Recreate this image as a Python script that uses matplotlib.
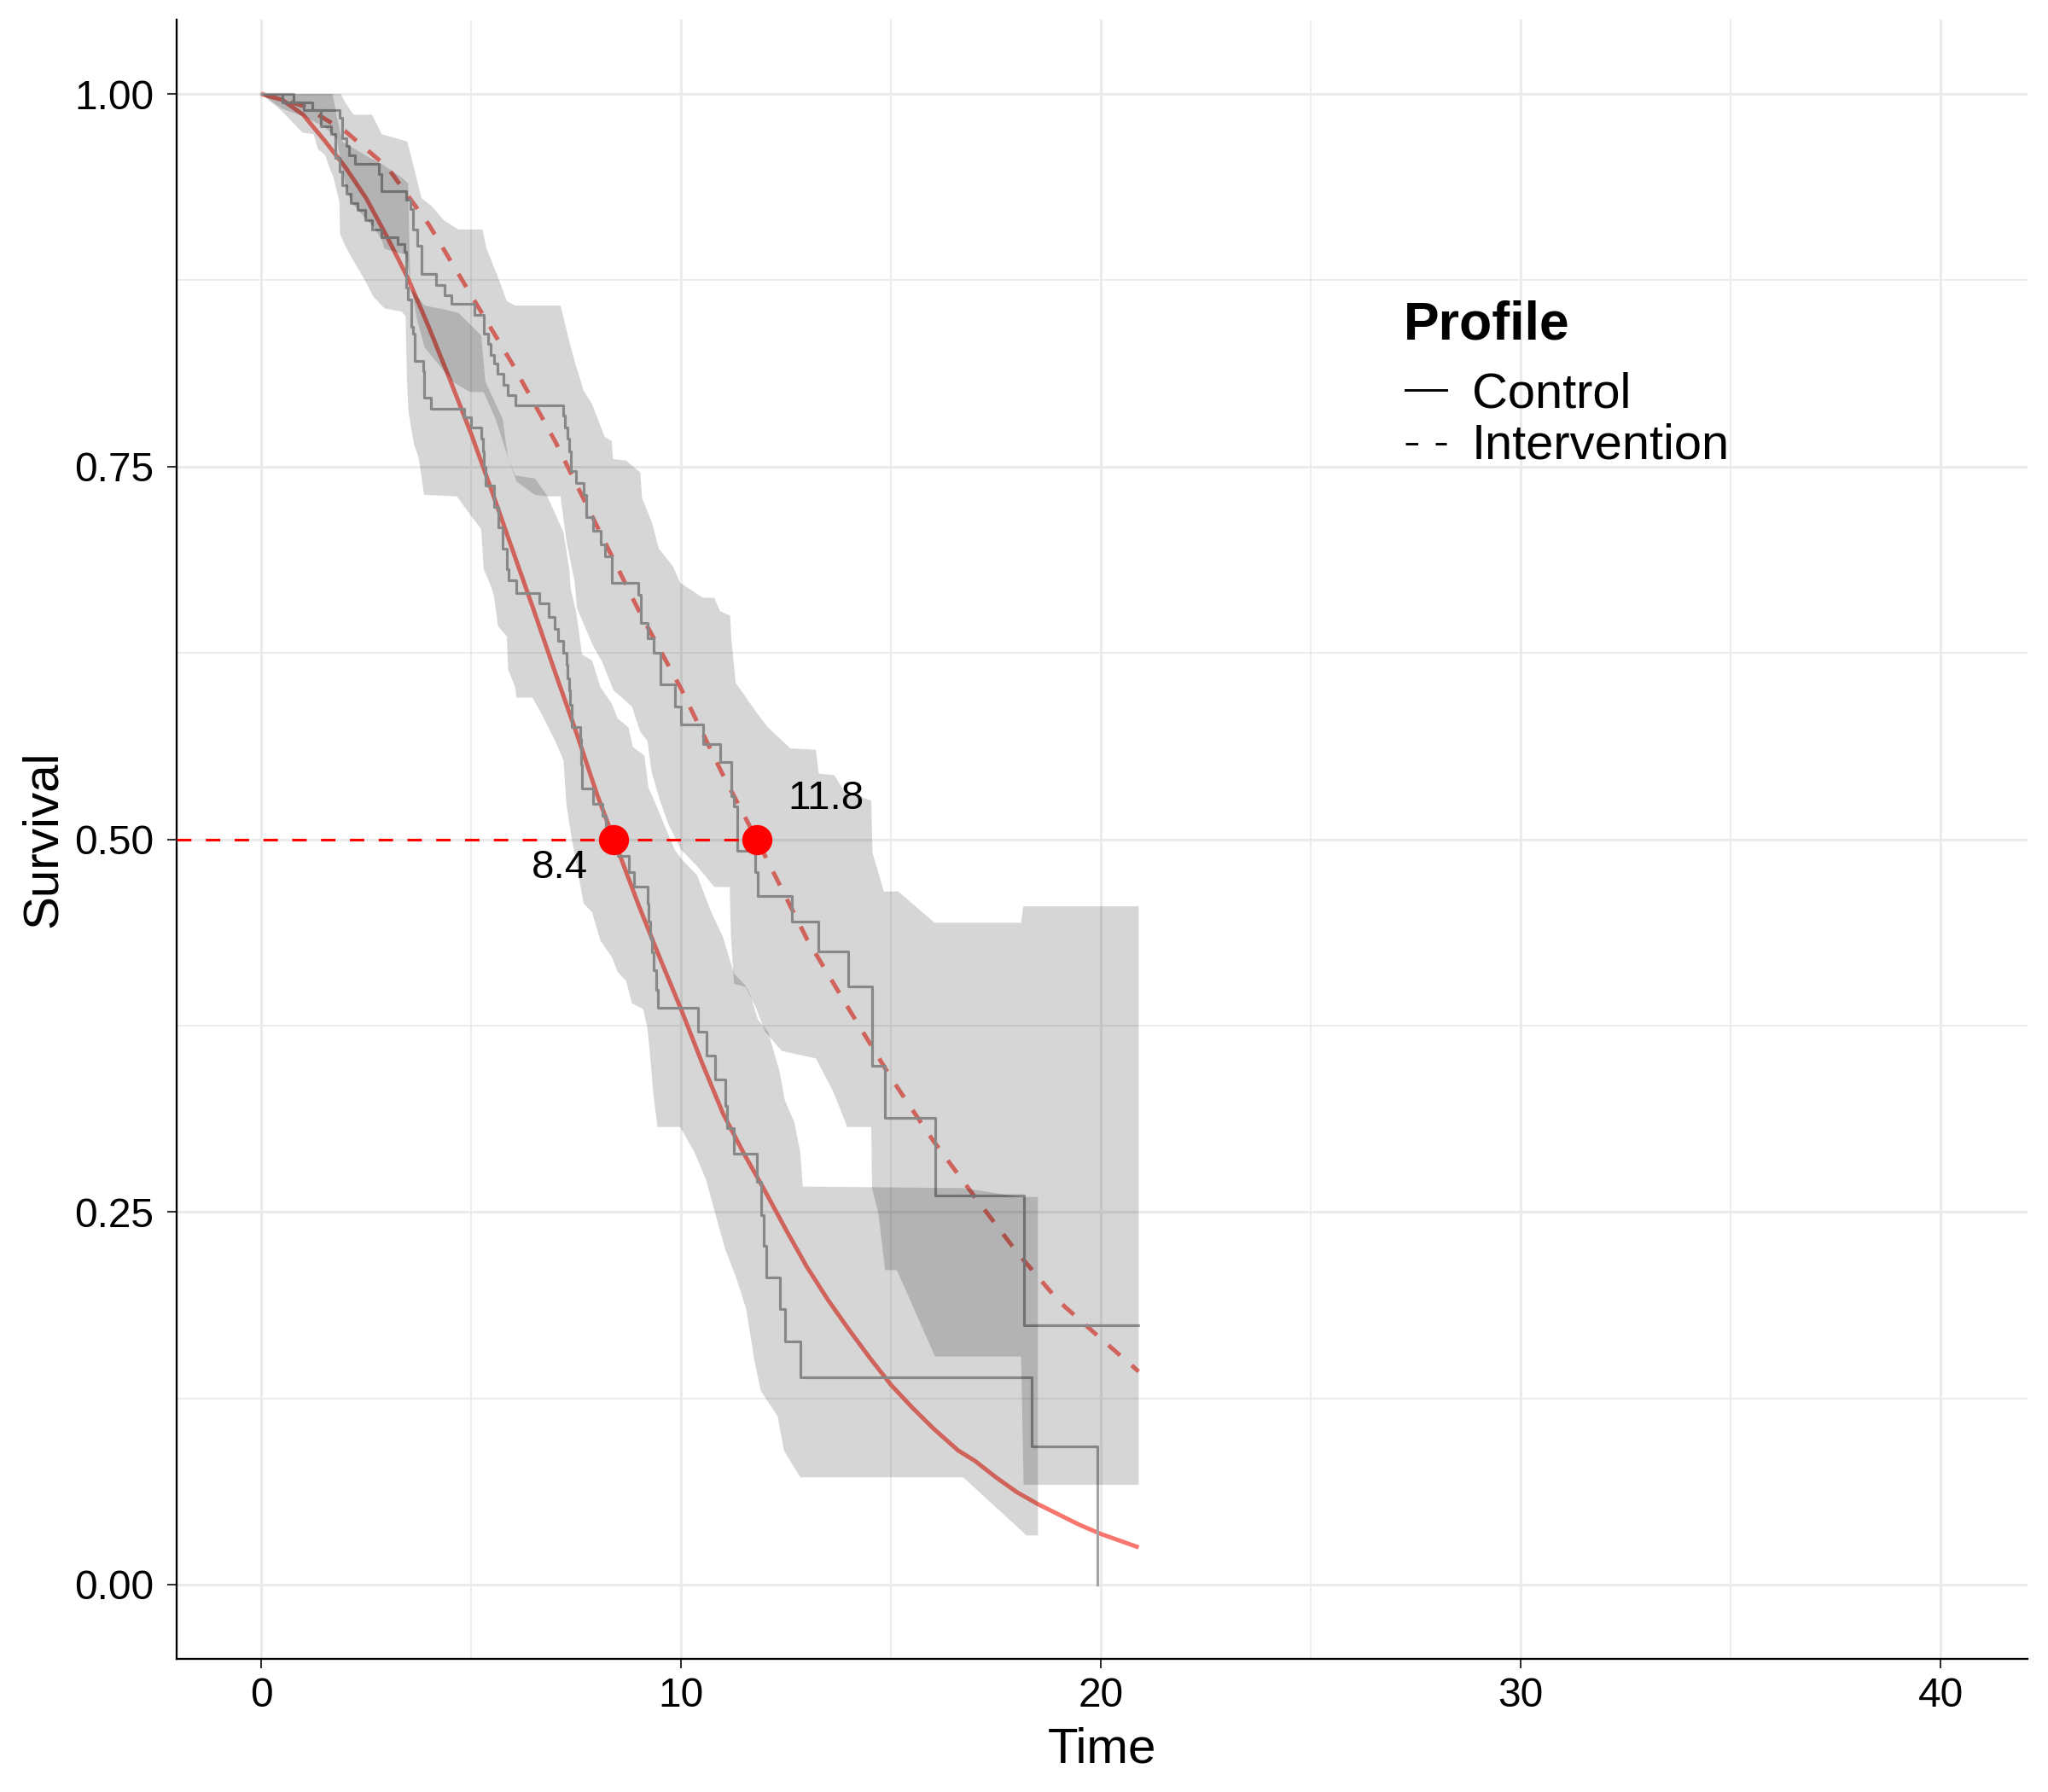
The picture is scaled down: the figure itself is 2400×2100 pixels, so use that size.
import matplotlib
matplotlib.use("Agg")
import matplotlib.pyplot as plt
from matplotlib.lines import Line2D
from matplotlib.ticker import MultipleLocator

plt.rcParams['font.family'] = ['Liberation Sans', 'DejaVu Sans']

# ---------------- data ----------------
# Kaplan-Meier steps (time, survival)
ctrl_km = [(0, 1.0), (0.51, 0.994), (1.01, 0.989), (1.42, 0.978), (1.66, 0.973), (1.76, 0.957),
           (1.86, 0.948), (1.93, 0.939), (2.03, 0.933), (2.13, 0.927), (2.30, 0.922), (2.47, 0.915),
           (2.64, 0.909), (2.87, 0.904), (3.24, 0.899), (3.41, 0.894), (3.45, 0.870), (3.50, 0.862),
           (3.58, 0.844), (3.61, 0.839), (3.66, 0.821), (3.85, 0.814), (3.88, 0.796), (4.05, 0.789),
           (4.83, 0.783), (5.00, 0.776), (5.24, 0.769), (5.28, 0.760), (5.31, 0.750), (5.34, 0.737),
           (5.54, 0.723), (5.64, 0.709), (5.75, 0.695), (5.85, 0.681), (5.90, 0.674), (6.08, 0.665),
           (6.63, 0.658), (6.85, 0.649), (7.00, 0.641), (7.07, 0.633), (7.20, 0.625), (7.27, 0.617),
           (7.30, 0.608), (7.33, 0.600), (7.36, 0.590), (7.39, 0.575), (7.60, 0.567), (7.62, 0.550),
           (7.65, 0.534), (7.91, 0.524), (8.13, 0.516), (8.20, 0.508), (8.30, 0.500), (8.50, 0.489),
           (8.75, 0.478), (8.87, 0.468), (9.20, 0.457), (9.22, 0.445), (9.26, 0.434), (9.30, 0.424),
           (9.34, 0.412), (9.40, 0.399), (9.45, 0.387), (10.40, 0.371), (10.60, 0.355), (10.82, 0.339),
           (11.06, 0.321), (11.10, 0.306), (11.26, 0.289), (11.80, 0.270), (11.90, 0.248), (11.96, 0.227),
           (12.03, 0.206), (12.36, 0.185), (12.48, 0.163), (12.85, 0.139), (18.36, 0.093), (19.92, 0.0)]

int_km = [(0, 1.0), (0.78, 0.994), (1.22, 0.989), (1.86, 0.984), (1.93, 0.970), (2.03, 0.965),
          (2.09, 0.959), (2.23, 0.953), (2.80, 0.946), (2.87, 0.935), (3.45, 0.929), (3.55, 0.923),
          (3.61, 0.909), (3.72, 0.898), (3.82, 0.879), (4.16, 0.872), (4.36, 0.865), (4.53, 0.859),
          (5.07, 0.852), (5.30, 0.839), (5.41, 0.832), (5.47, 0.825), (5.55, 0.819), (5.63, 0.812),
          (5.78, 0.805), (5.87, 0.798), (6.05, 0.791), (7.19, 0.784), (7.24, 0.776), (7.30, 0.769),
          (7.34, 0.760), (7.37, 0.747), (7.50, 0.739), (7.68, 0.731), (7.75, 0.716), (7.91, 0.707),
          (8.08, 0.698), (8.18, 0.690), (8.35, 0.672), (8.98, 0.664), (9.05, 0.645), (9.20, 0.635),
          (9.34, 0.625), (9.50, 0.604), (9.85, 0.589), (10.00, 0.577), (10.53, 0.564), (10.94, 0.552),
          (11.20, 0.529), (11.25, 0.522), (11.33, 0.492), (11.77, 0.478), (11.82, 0.462), (12.63, 0.445),
          (13.28, 0.425), (13.99, 0.401), (14.56, 0.348), (14.85, 0.313), (16.06, 0.261), (18.16, 0.174),
          (20.90, 0.174)]

# confidence band edges (time, survival)
ctrl_upper = [(0, 1.0), (1.70, 1.0), (1.80, 0.985), (1.93, 0.968), (2.53, 0.958), (2.87, 0.953),
              (3.34, 0.944), (3.50, 0.940), (3.55, 0.870), (3.89, 0.858), (4.43, 0.855), (4.70, 0.853),
              (5.24, 0.838), (5.34, 0.807), (5.75, 0.782), (5.88, 0.756), (6.05, 0.744), (6.52, 0.742),
              (6.80, 0.731), (7.20, 0.706), (7.34, 0.681), (7.37, 0.668), (7.50, 0.653), (7.64, 0.624),
              (7.88, 0.620), (8.08, 0.602), (8.35, 0.591), (8.49, 0.581), (8.75, 0.575), (8.85, 0.562),
              (9.13, 0.556), (9.22, 0.535), (9.45, 0.520), (9.70, 0.503), (9.85, 0.493), (10.00, 0.487),
              (10.38, 0.476), (10.72, 0.451), (10.99, 0.435), (11.26, 0.410), (11.53, 0.402), (11.66, 0.395),
              (11.83, 0.379), (12.07, 0.371), (12.34, 0.345), (12.47, 0.325), (12.70, 0.310), (12.84, 0.290),
              (12.90, 0.267), (16.72, 0.266), (18.10, 0.260), (18.50, 0.260)]
ctrl_lower = [(0, 1.0), (0.51, 0.988), (0.98, 0.974), (1.25, 0.973), (1.35, 0.963), (1.52, 0.959),
              (1.66, 0.948), (1.72, 0.944), (1.86, 0.928), (1.88, 0.906), (2.00, 0.898), (2.26, 0.885),
              (2.47, 0.875), (2.67, 0.864), (2.94, 0.856), (3.34, 0.854), (3.44, 0.851), (3.47, 0.810),
              (3.51, 0.786), (3.64, 0.765), (3.75, 0.756), (3.88, 0.731), (4.66, 0.730), (4.97, 0.718),
              (5.24, 0.708), (5.30, 0.681), (5.44, 0.672), (5.54, 0.664), (5.64, 0.643), (5.85, 0.636),
              (5.88, 0.614), (6.05, 0.602), (6.08, 0.595), (6.46, 0.595), (6.66, 0.585), (7.00, 0.566),
              (7.20, 0.553), (7.27, 0.523), (7.40, 0.500), (7.68, 0.457), (7.88, 0.451), (8.08, 0.432),
              (8.35, 0.421), (8.49, 0.411), (8.69, 0.405), (8.83, 0.390), (9.10, 0.386), (9.20, 0.373),
              (9.27, 0.353), (9.34, 0.329), (9.44, 0.307), (9.98, 0.307), (10.32, 0.290), (10.59, 0.272),
              (11.05, 0.225), (11.30, 0.207), (11.55, 0.185), (11.75, 0.150), (11.90, 0.130), (12.30, 0.113),
              (12.45, 0.090), (12.84, 0.072), (16.72, 0.072), (18.23, 0.033), (18.50, 0.033)]

int_upper = [(0, 1.0), (1.89, 1.0), (2.03, 0.993), (2.20, 0.986), (2.64, 0.986), (2.87, 0.973),
             (3.48, 0.968), (3.58, 0.957), (3.82, 0.930), (4.05, 0.925), (4.36, 0.915), (4.70, 0.909),
             (5.27, 0.909), (5.37, 0.896), (5.64, 0.877), (5.85, 0.861), (6.05, 0.858), (7.13, 0.858),
             (7.34, 0.834), (7.47, 0.820), (7.68, 0.801), (7.88, 0.792), (8.18, 0.770), (8.35, 0.767),
             (8.38, 0.755), (8.69, 0.754), (9.03, 0.746), (9.07, 0.729), (9.30, 0.713), (9.47, 0.695),
             (9.81, 0.683), (9.98, 0.672), (10.52, 0.662), (10.79, 0.662), (10.93, 0.653), (11.17, 0.650),
             (11.20, 0.634), (11.30, 0.605), (11.80, 0.585), (12.07, 0.575), (12.60, 0.561), (13.21, 0.560),
             (13.28, 0.544), (13.65, 0.543), (13.89, 0.532), (14.53, 0.526), (14.56, 0.491), (14.83, 0.465),
             (15.17, 0.465), (16.04, 0.444), (18.10, 0.444), (18.15, 0.455), (20.90, 0.455)]
int_lower = [(0, 1.0), (0.50, 0.990), (1.00, 0.985), (1.50, 0.978), (1.80, 0.970), (1.89, 0.955),
             (2.00, 0.940), (2.13, 0.928), (2.40, 0.919), (2.67, 0.911), (2.87, 0.902), (2.94, 0.896),
             (3.45, 0.892), (3.55, 0.875), (3.70, 0.850), (3.89, 0.830), (4.56, 0.807), (4.97, 0.800),
             (5.30, 0.800), (5.58, 0.782), (5.88, 0.756), (6.08, 0.740), (6.52, 0.731), (6.80, 0.730),
             (7.13, 0.730), (7.27, 0.700), (7.47, 0.672), (7.52, 0.655), (7.90, 0.630), (8.12, 0.619),
             (8.39, 0.600), (8.83, 0.589), (9.03, 0.572), (9.20, 0.566), (9.30, 0.545), (9.51, 0.525),
             (9.70, 0.510), (10.00, 0.493), (10.38, 0.482), (10.79, 0.468), (11.16, 0.468), (11.19, 0.434),
             (11.26, 0.403), (11.53, 0.401), (11.77, 0.388), (12.00, 0.371), (12.40, 0.358), (13.21, 0.353),
             (13.62, 0.331), (13.96, 0.307), (14.53, 0.307), (14.55, 0.266), (14.70, 0.249), (14.86, 0.211),
             (15.14, 0.211), (16.05, 0.153), (18.10, 0.153), (18.16, 0.067), (20.90, 0.067)]

# fitted parametric curves
ctrl_fit_t = [0, 0.5, 1, 1.5, 2, 2.5, 3, 3.5, 4, 4.5, 5, 5.5, 6, 6.5, 7, 7.5, 8, 8.4, 9, 9.5, 10,
              10.5, 11, 11.5, 12, 12.5, 13, 13.5, 14, 14.5, 15, 15.5, 16, 16.6, 17, 17.5, 18, 18.5,
              19, 19.5, 20, 20.9]
ctrl_fit_s = [1.0, 0.996, 0.986, 0.969, 0.951, 0.930, 0.904, 0.876, 0.843, 0.808, 0.772, 0.733, 0.693,
              0.653, 0.612, 0.572, 0.530, 0.500, 0.455, 0.420, 0.386, 0.350, 0.316, 0.289, 0.264,
              0.238, 0.213, 0.191, 0.171, 0.152, 0.134, 0.119, 0.105, 0.090, 0.083, 0.072, 0.062,
              0.054, 0.047, 0.040, 0.034, 0.025]
int_fit_t = [0, 1, 2, 3, 4, 5, 6, 7, 8, 9, 10, 11, 11.8, 12, 13, 14, 15, 16, 17, 18, 19, 20, 20.9]
int_fit_s = [1.0, 0.992, 0.975, 0.951, 0.912, 0.865, 0.818, 0.767, 0.710, 0.653, 0.601, 0.543, 0.500,
             0.489, 0.433, 0.386, 0.340, 0.298, 0.260, 0.223, 0.190, 0.165, 0.143]

# medians
median_times = [8.4, 11.8]
median_labels = ["8.4", "11.8"]
median_label_pos = [(7.11, 0.481), (13.45, 0.527)]

groups = ["Control", "Intervention"]
x_ticks = [0, 10, 20, 30, 40]
y_ticks = [0.00, 0.25, 0.50, 0.75, 1.00]
y_ticklabels = ["0.00", "0.25", "0.50", "0.75", "1.00"]

# ---------------- figure ----------------
W, H = 2400, 2100
fig = plt.figure(figsize=(8, 7), dpi=300)
ax_left, ax_right, ax_top, ax_bottom = 206.7, 2376, 23, 1944
ax = fig.add_axes([ax_left / W, 1 - ax_bottom / H, (ax_right - ax_left) / W, (ax_bottom - ax_top) / H])

ax.set_xlim(-2.02, 42.07)
ax.set_ylim(-0.0498, 1.0498)

ax.set_axisbelow(True)
ax.xaxis.set_minor_locator(MultipleLocator(5))
ax.yaxis.set_minor_locator(MultipleLocator(0.125))
ax.set_xticks(x_ticks)
ax.set_yticks(y_ticks)
ax.set_yticklabels(y_ticklabels)
ax.grid(which='major', color='#EBEBEB', lw=0.75)
ax.grid(which='minor', color='#EBEBEB', lw=0.45)
ax.tick_params(which='minor', length=0)
ax.tick_params(which='major', length=2.75, width=0.5, color='#333333', labelsize=11.5,
               labelcolor='black')
ax.tick_params(axis='x', pad=2.2)
ax.tick_params(axis='y', pad=3.6)
for s in ['top', 'right']:
    ax.spines[s].set_visible(False)
for s in ['left', 'bottom']:
    ax.spines[s].set_linewidth(0.55)
    ax.spines[s].set_color('black')

red = '#F8766D'
# fitted curves
ax.plot(ctrl_fit_t, ctrl_fit_s, color=red, lw=1.2, zorder=2, solid_capstyle='butt')
ax.plot(int_fit_t, int_fit_s, color=red, lw=1.2, linestyle=(0, (3.6, 3.6)), zorder=2)

# KM steps
for km in (ctrl_km, int_km):
    t, s = zip(*km)
    ax.step(t, s, where='post', color='#A3A3A3', lw=0.75, zorder=2.5)

# confidence ribbons
for up, lo in ((ctrl_upper, ctrl_lower), (int_upper, int_lower)):
    ut, us = zip(*up)
    lt, ls = zip(*lo)
    ax.fill(list(ut) + list(lt)[::-1], list(us) + list(ls)[::-1],
            color='black', alpha=0.16, lw=0, zorder=3)

# median reference line and points
ax.hlines(0.5, -2.02, max(median_times), colors='#FF0000', lw=0.75,
          linestyles=[(0, (5.4, 5.4))], zorder=4)
ax.scatter(median_times, [0.5] * len(median_times), s=72, color='#FF0000', lw=0, zorder=5)
for lab, (tx, ty) in zip(median_labels, median_label_pos):
    ax.text(tx, ty, lab, ha='center', va='center', fontsize=11.4, color='black', zorder=6)

# axis titles
ax.set_xlabel("Time", fontsize=14.0)
ax.set_ylabel("Survival", fontsize=14.0)
ax.xaxis.set_label_coords(0.5, -0.0554)
ax.xaxis.label.set_va('center')
ax.yaxis.set_label_coords(-0.0718, 0.5)
ax.yaxis.label.set_va('center')

# legend (manual, ggplot style)
fig.text(1645 / W, 1 - 397 / H, "Profile", fontsize=15, fontweight='bold', va='baseline', ha='left')
key_y = [457, 520]
txt_y = [477, 537]
styles = ['-', (0, (5, 7))]
for g, ky, ty, ls in zip(groups, key_y, txt_y, styles):
    fig.add_artist(Line2D([1647 / W, 1695 / W], [1 - ky / H, 1 - ky / H], color='black',
                          lw=0.7, linestyle=ls, transform=fig.transFigure))
    fig.text(1725 / W, 1 - ty / H, g, fontsize=13.9, va='baseline', ha='left')

fig.savefig("out.png", dpi=300, facecolor='white')
